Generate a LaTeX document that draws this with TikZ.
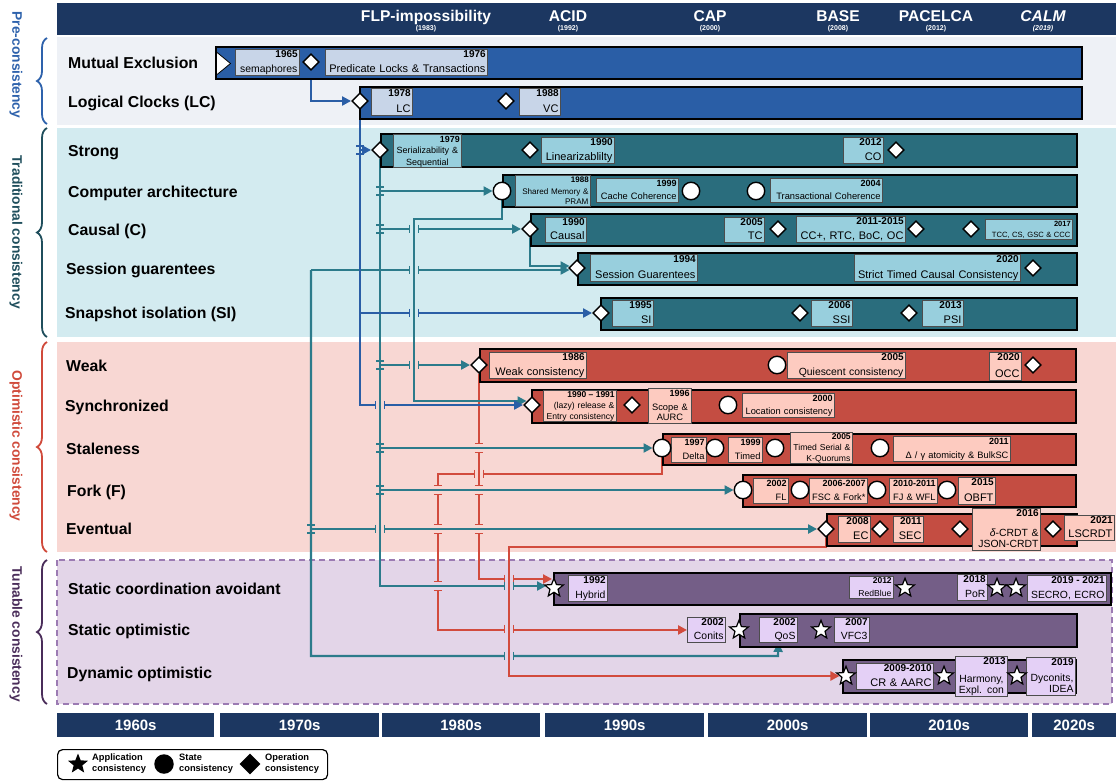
\documentclass[tikz,border=0pt]{standalone}
\usepackage{fontspec}
\setmainfont{Liberation Sans}
\usetikzlibrary{shapes.geometric,arrows.meta,calc,decorations.pathreplacing}
\pgfdeclarelayer{bgl}
\pgfdeclarelayer{conn}
\pgfsetlayers{bgl,conn,main}

\definecolor{cNavy}{HTML}{1C3761}
\definecolor{cPreBg}{HTML}{EEF1F6}
\definecolor{cTradBg}{HTML}{D3EBF0}
\definecolor{cOptBg}{HTML}{F8D7D3}
\definecolor{cTunBg}{HTML}{E3D5E8}
\definecolor{cTunLine}{HTML}{9C7BB3}
\definecolor{cBlueBar}{HTML}{2A5EA6}
\definecolor{cBlueBox}{HTML}{C8D5E8}
\definecolor{cTealBar}{HTML}{2A6D7D}
\definecolor{cTealBox}{HTML}{98CFDD}
\definecolor{cRedBar}{HTML}{C44D42}
\definecolor{cRedBox}{HTML}{FDCBC0}
\definecolor{cPurpBar}{HTML}{745E87}
\definecolor{cPurpBox}{HTML}{E4D0F6}
\definecolor{lnBlue}{HTML}{2A5EA6}
\definecolor{lnTeal}{HTML}{2C7B8B}
\definecolor{lnRed}{HTML}{D24B3D}
\definecolor{cPreTxt}{HTML}{2E62AC}
\definecolor{cTradTxt}{HTML}{1F4E5C}
\definecolor{cOptTxt}{HTML}{D04A3B}
\definecolor{cTunTxt}{HTML}{4A2D5A}
\definecolor{boxline}{HTML}{4D4D4D}

\newcommand{\fsz}[2]{\fontsize{#1}{#2}\selectfont}

% timeline bar: name, x1, y1, x2, y2, fill
\newcommand{\tlbar}[6]{%
  \pgfmathsetmacro\bw{#4-#2}\pgfmathsetmacro\bh{#5-#3}%
  \node[barst, fill=#6, minimum width=\bw pt, minimum height=\bh pt] (#1) at (#2,#3) {};}

% dated box: [opts] name, x1, y1, x2, y2, fill, year, label
\newcommand{\ybox}[9][]{%
  \begin{scope}[#1]
    \pgfmathsetmacro\bw{#5-#3}\pgfmathsetmacro\bh{#6-#4}\pgfmathsetmacro\tw{#5-#3-4}%
    \node[ybx, fill=#7, minimum width=\bw pt, minimum height=\bh pt] (#2) at (#3,#4) {};
    \node[yrf] (#2-y) at (#2.north east) {#8};
    \node[lbf, text width=\tw pt] (#2-l) at (#2.south) {#9\vphantom{y}};
  \end{scope}}

% line jumps: x, y, background, crossing colour, jumped colour
\newcommand{\hgap}[5]{%
  \fill[#3] (#1-4.6,#2-1.8) rectangle (#1+4.6,#2+1.8);
  \draw[#4,line width=2.2] (#1,#2-2.5) -- (#1,#2+2.5);
  \draw[#5,line width=1.5] (#1-4.6,#2-4.2) -- (#1-4.6,#2+4.2) (#1+4.6,#2-4.2) -- (#1+4.6,#2+4.2);}
\newcommand{\vgap}[5]{%
  \fill[#3] (#1-1.8,#2-4.6) rectangle (#1+1.8,#2+4.6);
  \draw[#4,line width=2.2] (#1-2.5,#2) -- (#1+2.5,#2);
  \draw[#5,line width=1.5] (#1-4.2,#2-4.6) -- (#1+4.2,#2-4.6) (#1-4.2,#2+4.6) -- (#1+4.2,#2+4.6);}
% branch ticks on a trunk line
\newcommand{\btick}[3]{%
  \draw[#3,line width=1.5] (#1-4,#2-4.2) -- (#1+4,#2-4.2) (#1-4,#2+4.2) -- (#1+4,#2+4.2);}

\begin{document}
\begin{tikzpicture}[x=1pt,y=-1pt,
  barst/.style={draw=black, line width=1.6, inner sep=0, anchor=north west},
  ybx/.style={draw=boxline, line width=0.9, inner sep=0, anchor=north west},
  yrf/.style={anchor=north east, inner xsep=2, inner ysep=1.8, font=\fsz{10}{11}\bfseries},
  lbf/.style={anchor=south, inner xsep=0, inner ysep=0.8, align=right, font=\fsz{11}{12}},
  szT/.style={yrf/.append style={font=\fsz{10}{11}\bfseries}, lbf/.append style={font=\fsz{10.4}{11.6}}},
  szM/.style={yrf/.append style={font=\fsz{9}{10}\bfseries}, lbf/.append style={font=\fsz{9.3}{10.6}}},
  szS9/.style={yrf/.append style={font=\fsz{8.9}{10}\bfseries}, lbf/.append style={font=\fsz{9}{11.2}}},
  szS/.style={yrf/.append style={font=\fsz{8.5}{9.5}\bfseries}, lbf/.append style={font=\fsz{8.6}{10.2}}},
  szS8/.style={yrf/.append style={font=\fsz{8}{9}\bfseries}, lbf/.append style={font=\fsz{8.1}{10}}},
  szXS/.style={yrf/.append style={font=\fsz{7.5}{8.5}\bfseries}, lbf/.append style={font=\fsz{7.6}{8.6}}},
  lbc/.style={lbf/.append style={align=center}},
  dmd/.style={diamond, draw=black, fill=white, line width=1.4, inner sep=0, minimum width=16.5, minimum height=16.5},
  crc/.style={circle, draw=black, fill=white, line width=1.4, inner sep=0, minimum size=17.5},
  str/.style={star, star points=5, star point ratio=2.3, draw=black, fill=white, line width=1.2, inner sep=0, minimum size=19.5},
  rowlab/.style={anchor=base west, inner sep=0, font=\fsz{15.8}{18}\bfseries},
  seclab/.style={rotate=-90, inner sep=0, font=\fsz{13.8}{16}\bfseries},
  hdr/.style={anchor=base, inner sep=0, text=white, font=\fsz{15.6}{17}\bfseries},
  hsub/.style={anchor=base, inner sep=0, text=white, font=\fsz{7}{8}\bfseries},
  dec/.style={anchor=north west, fill=cNavy, text=white, inner sep=0, minimum height=24, font=\fsz{15}{17}\bfseries},
  lgtxt/.style={anchor=west, align=left, inner sep=0, font=\fsz{9.3}{11}\bfseries},
  brc/.style={decorate, decoration={brace, amplitude=10pt}, line width=1.8},
  arr/.style={-{Triangle[length=9pt,width=9pt]}},
  cb/.style={draw=lnBlue, line width=2.2},
  ct/.style={draw=lnTeal, line width=2.2},
  cr/.style={draw=lnRed, line width=2.2}]
\useasboundingbox (0,0) rectangle (1119,780);

% ---------- backgrounds, header, decades ----------
\begin{pgfonlayer}{bgl}
  \fill[white] (0,0) rectangle (1119,780);
  \fill[cNavy] (57,3) rectangle (1116,35);
  \fill[cPreBg] (57,37) rectangle (1116,125);
  \fill[cTradBg] (57,128) rectangle (1116,337);
  \fill[cOptBg] (57,342) rectangle (1116,552);
  \fill[cTunBg] (57,560) rectangle (1112,704);
  \draw[cTunLine, line width=1.8, dash pattern=on 6pt off 4pt] (57,560) rectangle (1112,704);
\end{pgfonlayer}

\node[hdr] (hFLP) at (426,21.5) {FLP-impossibility};
\node[hsub] (hFLPy) at (426,30) {(1983)};
\node[hdr] (hACID) at (568,21.5) {ACID};
\node[hsub] (hACIDy) at (568,30) {(1992)};
\node[hdr] (hCAP) at (710,21.5) {CAP};
\node[hsub] (hCAPy) at (710,30) {(2000)};
\node[hdr] (hBASE) at (838,21.5) {BASE};
\node[hsub] (hBASEy) at (838,30) {(2008)};
\node[hdr] (hPAC) at (936,21.5) {PACELCA};
\node[hsub] (hPACy) at (936,30) {(2012)};
\node[hdr] (hCALM) at (1043,21.5) {\itshape CALM};
\node[hsub] (hCALMy) at (1043,30) {\itshape (2019)};

\node[dec, minimum width=157] (d60) at (57,713) {1960s};
\node[dec, minimum width=159] (d70) at (220,713) {1970s};
\node[dec, minimum width=158] (d80) at (382,713) {1980s};
\node[dec, minimum width=159] (d90) at (545,713) {1990s};
\node[dec, minimum width=159] (d00) at (708,713) {2000s};
\node[dec, minimum width=158] (d10) at (870,713) {2010s};
\node[dec, minimum width=84] (d20) at (1032,713) {2020s};

% ---------- section braces and titles ----------
\draw[brc, cPreTxt] (47,124) -- (47,38);
\draw[brc, cTradTxt] (47,337) -- (47,128);
\draw[brc, cOptTxt] (47,552) -- (47,342);
\draw[brc, cTunTxt] (47,704) -- (47,560);
\node[seclab, text=cPreTxt] (sPre) at (16,65) {Pre-consistency};
\node[seclab, text=cTradTxt] (sTrad) at (16,232) {Traditional consistency};
\node[seclab, text=cOptTxt] (sOpt) at (16,446) {Optimistic consistency};
\node[seclab, text=cTunTxt] (sTun) at (16,634) {Tunable consistency};

% ---------- row labels ----------
\node[rowlab] (lME) at (68,68.6) {Mutual Exclusion};
\node[rowlab] (lLC) at (68,107.6) {Logical Clocks (LC)};
\node[rowlab] (lStrong) at (68,156.6) {Strong};
\node[rowlab] (lCA) at (68,197.6) {Computer architecture};
\node[rowlab] (lCausal) at (68,235.6) {Causal (C)};
\node[rowlab] (lSession) at (66,274.6) {Session guarentees};
\node[rowlab] (lSI) at (65,318.6) {Snapshot isolation (SI)};
\node[rowlab] (lWeak) at (66,371.6) {Weak};
\node[rowlab] (lSync) at (65,411.6) {Synchronized};
\node[rowlab] (lStale) at (66,454.6) {Staleness};
\node[rowlab] (lFork) at (67,496.6) {Fork (F)};
\node[rowlab] (lEvent) at (66,534.6) {Eventual};
\node[rowlab] (lSCA) at (68,594.6) {Static coordination avoidant};
\node[rowlab] (lSO) at (68,635.6) {Static optimistic};
\node[rowlab] (lDO) at (67,678.6) {Dynamic optimistic};

% ---------- timeline bars ----------
\tlbar{barME}{215}{46}{1081}{78}{cBlueBar}
\tlbar{barLC}{359}{86}{1081}{118}{cBlueBar}
\tlbar{barStrong}{380}{133}{1076}{166}{cTealBar}
\tlbar{barCA}{502}{174}{1076}{206}{cTealBar}
\tlbar{barCausal}{530}{213}{1076}{245}{cTealBar}
\tlbar{barSession}{577}{252}{1076}{284}{cTealBar}
\tlbar{barSI}{600}{297}{1076}{329}{cTealBar}
\tlbar{barWeak}{479}{348}{1075}{381}{cRedBar}
\tlbar{barSync}{531}{389}{1075}{422}{cRedBar}
\tlbar{barStale}{662}{433}{1075}{464}{cRedBar}
\tlbar{barFork}{742}{474}{1075}{506}{cRedBar}
\tlbar{barEvent}{826}{513}{1076}{545}{cRedBar}
\tlbar{barSCA}{553}{572}{1110}{604}{cPurpBar}
\tlbar{barSO}{739}{613}{1076}{646}{cPurpBar}
\tlbar{barDO}{842}{659}{1075}{692}{cPurpBar}
\filldraw[fill=white, draw=black, line width=0.8] (216.5,52) -- (230.5,63.5) -- (216.5,75) -- cycle;

% ---------- dated boxes ----------
\ybox[szT]{b1965}{235}{49}{299}{75}{cBlueBox}{1965}{semaphores}
\ybox{b1976}{325}{49}{487}{75}{cBlueBox}{1976}{Predicate Locks \& Transactions}
\ybox{b1978}{371}{88}{412}{115}{cBlueBox}{1978}{LC}
\ybox{b1988v}{519}{88}{560}{115}{cBlueBox}{1988}{VC}

\ybox[szS9,lbc]{b1979}{393}{134}{461}{167}{cTealBox}{1979}{Serializability \&\\Sequential}
\ybox{b1990l}{541}{137}{614}{163}{cTealBox}{1990}{Linearizablilty}
\ybox{b2012c}{843}{137}{883}{163}{cTealBox}{2012}{CO}
\ybox[szS8]{b1988s}{515}{175}{590}{206}{cTealBox}{1988}{Shared Memory \&\\PRAM}
\ybox[szM]{b1999c}{596}{178}{678}{202}{cTealBox}{1999}{Cache Coherence}
\ybox[szM]{b2004}{770}{178}{882}{202}{cTealBox}{2004}{Transactional Coherence}
\ybox{b1990c}{545}{217}{586}{242}{cTealBox}{1990}{Causal}
\ybox{b2005c}{724}{217}{764}{242}{cTealBox}{2005}{TC}
\ybox{b2011c}{796}{216}{905}{242}{cTealBox}{2011-2015}{CC+, RTC, BoC, OC}
\ybox[szXS]{b2017}{985}{219}{1072}{239}{cTealBox}{2017}{TCC, CS, GSC \& CCC}
\ybox{b1994}{590}{254}{697}{281}{cTealBox}{1994}{Session Guarentees}
\ybox{b2020s}{854}{254}{1020}{281}{cTealBox}{2020}{Strict Timed Causal Consistency}
\ybox{b1995}{612}{300}{653}{326}{cTealBox}{1995}{SI}
\ybox{b2006}{811}{300}{852}{326}{cTealBox}{2006}{SSI}
\ybox{b2013p}{922}{300}{963}{326}{cTealBox}{2013}{PSI}

\ybox{b1986}{489}{352}{586}{378}{cRedBox}{1986}{Weak consistency}
\ybox[szT]{b2005q}{787}{352}{905}{378}{cRedBox}{2005}{Quiescent consistency}
\ybox{b2020o}{989}{352}{1021}{380}{cRedBox}{2020}{OCC}
\ybox[szS]{b1990r}{543}{390}{616}{421}{cRedBox}{1990 -- 1991}{(lazy) release \&\\Entry consistency}
\ybox[szM,lbc]{b1996}{648}{388}{691}{423}{cRedBox}{1996}{Scope \&\\AURC}
\ybox[szM]{b2000}{742}{393}{834}{417}{cRedBox}{2000}{Location consistency}
\ybox[szM]{b1997}{671}{437}{706}{462}{cRedBox}{1997}{Delta}
\ybox[szM]{b1999t}{728}{437}{762}{462}{cRedBox}{1999}{Timed}
\ybox[szS]{b2005t}{790}{432}{852}{463}{cRedBox}{2005}{Timed Serial \&\\K-Quorums}
\ybox[szM]{b2011d}{893}{436}{1010}{461}{cRedBox}{2011}{Δ / γ atomicity \& BulkSC}
\ybox[szM]{b2002f}{753}{478}{788}{503}{cRedBox}{2002}{FL}
\ybox[szM]{b2006f}{809}{478}{867}{503}{cRedBox}{2006-2007}{FSC \& Fork*}
\ybox[szM]{b2010f}{889}{478}{937}{503}{cRedBox}{2010-2011}{FJ \& WFL}
\ybox{b2015}{958}{477}{995}{504}{cRedBox}{2015}{OBFT}
\ybox{b2008}{838}{516}{870}{542}{cRedBox}{2008}{EC}
\ybox{b2011e}{893}{516}{923}{542}{cRedBox}{2011}{SEC}
\ybox[szT]{b2016}{972}{508}{1040}{550}{cRedBox}{2016}{\textit{δ}-CRDT \&\\JSON-CRDT}
\ybox{b2021}{1064}{515}{1114}{540}{cRedBox}{2021}{LSCRDT}

\ybox[szT]{b1992}{568}{575}{607}{601}{cPurpBox}{1992}{Hybrid}
\ybox[szS]{b2012r}{849}{576}{893}{598}{cPurpBox}{2012}{RedBlue}
\ybox[szT]{b2018}{957}{574}{987}{600}{cPurpBox}{2018}{PoR}
\ybox[szT]{b2019s}{1027}{575}{1106}{601}{cPurpBox}{2019 - 2021}{SECRO, ECRO}
\ybox[szT]{bConits}{687}{617}{725}{642}{cPurpBox}{2002}{Conits}
\ybox[szT]{bQoS}{759}{617}{797}{642}{cPurpBox}{2002}{QoS}
\ybox[szT]{b2007}{834}{617}{869}{642}{cPurpBox}{2007}{VFC3}
\ybox{b2009}{856}{663}{933}{689}{cPurpBox}{2009-2010}{CR \& AARC}
\ybox[szT,lbc]{b2013h}{955}{656}{1007}{696}{cPurpBox}{2013}{Harmony,\\Expl. con}
\ybox[szT]{b2019d}{1026}{657}{1075}{695}{cPurpBox}{2019}{Dyconits,\\IDEA}

% ---------- consistency markers ----------
\node[dmd] (dME) at (311,62) {};
\node[dmd] (dLC) at (360,101) {};
\node[dmd] (dVC) at (506,101) {};
\node[dmd] (dStrong) at (380,150) {};
\node[dmd] (dLin) at (530,150) {};
\node[dmd] (dCO) at (896,150) {};
\node[crc] (cCA) at (502,191) {};
\node[crc] (cCC1) at (691,191) {};
\node[crc] (cCC2) at (756,191) {};
\node[dmd] (dCausal) at (530,229) {};
\node[dmd] (dTC) at (778,229) {};
\node[dmd] (dCCp) at (916,229) {};
\node[dmd] (dTCC) at (971,229) {};
\node[dmd] (dSession) at (577,268) {};
\node[dmd] (dSTCC) at (1033,268) {};
\node[dmd] (dSI) at (601,313) {};
\node[dmd] (dSSI) at (800,313) {};
\node[dmd] (dPSI) at (909,313) {};
\node[dmd] (dWeak) at (479,365) {};
\node[crc] (cQC) at (777,365) {};
\node[dmd] (dOCC) at (1033,365) {};
\node[dmd] (dSync) at (532,405) {};
\node[dmd] (dScope) at (632,405) {};
\node[crc] (cLoc) at (728,405) {};
\node[crc] (cStale) at (662,448) {};
\node[crc] (cTimed) at (715,448) {};
\node[crc] (cTSer) at (775,448) {};
\node[crc] (cAtom) at (880,448) {};
\node[crc] (cFork) at (743,490) {};
\node[crc] (cFSC) at (800,490) {};
\node[crc] (cFJ) at (877,490) {};
\node[crc] (cOBFT) at (947,490) {};
\node[dmd] (dEvent) at (826,529) {};
\node[dmd] (dSEC) at (880,529) {};
\node[dmd] (dCRDT) at (960,529) {};
\node[dmd] (dLSC) at (1053,529) {};
\node[str] (sSCA) at (554,588) {};
\node[str] (sRB) at (905,588) {};
\node[str] (sPoR) at (997,588) {};
\node[str] (sSEC) at (1016,588) {};
\node[str] (sSO) at (739,630) {};
\node[str] (sVFC) at (821,630) {};
\node[str] (sDyn) at (846,676) {};
\node[str] (sHarm) at (944,676) {};
\node[str] (sDyc) at (1017,676) {};

% ---------- connectors ----------
\coordinate (cBend) at (414,219);
\coordinate (cLeft) at (311,270);
\coordinate (qBend) at (778,656);
\coordinate (rBend) at (438,474);
\coordinate (eBend) at (509,547);

\begin{pgfonlayer}{conn}
  % optimistic lineage
  \draw[cr,arr] (dWeak.south) |- ($(sSCA)+(-2,-9)$);
  \draw[cr,arr] (cStale.south) |- (rBend) |- (bConits.west);
  \draw[cr,arr] (dEvent.south) |- (eBend) |- (sDyn);
  % traditional lineage
  \draw[ct,arr] (dStrong.south) |- (cCA);
  \draw[ct,arr] (dStrong.south) |- (dCausal);
  \draw[ct,arr] (dStrong.south) |- (dWeak);
  \draw[ct,arr] (dStrong.south) |- (cStale);
  \draw[ct,arr] (dStrong.south) |- (cFork);
  \draw[ct,arr] (dStrong.south) |- ($(sSCA)+(-8,-2)$);
  \draw[ct,arr] (cCA.south) |- (cBend) |- ($(dSync.west)+(3.5,-4)$);
  \draw[ct,arr] (dCausal.south) |- ($(dSession.west)+(1.5,-2)$);
  \draw[ct,arr] (cLeft) -- ($(dSession.west)+(1.5,2)$);
  \draw[ct,arr] (cLeft) |- (dEvent);
  \draw[ct,arr] (cLeft) |- (qBend) -- (bQoS.south);
  % pre-consistency lineage
  \draw[cb,arr] (dME.south) |- (dLC);
  \draw[cb,arr] (dLC.south) |- (dStrong);
  \draw[cb,arr] (dLC.south) |- (dSI);
  \draw[cb,arr] (dLC.south) |- (dSync);
  % line jumps
  \hgap{414}{229}{cTradBg}{lnTeal}{lnTeal}
  \hgap{414}{270}{cTradBg}{lnTeal}{lnTeal}
  \hgap{414}{313}{cTradBg}{lnTeal}{lnBlue}
  \hgap{414}{365}{cOptBg}{lnTeal}{lnTeal}
  \hgap{380}{405}{cOptBg}{lnTeal}{lnBlue}
  \hgap{380}{529}{cOptBg}{lnTeal}{lnTeal}
  \hgap{479}{474}{cOptBg}{lnRed}{lnRed}
  \hgap{509}{579}{cTunBg}{lnRed}{lnRed}
  \hgap{509}{586}{cTunBg}{lnRed}{lnTeal}
  \hgap{509}{629}{cTunBg}{lnRed}{lnRed}
  \hgap{509}{656}{cTunBg}{lnRed}{lnTeal}
  \vgap{479}{448}{cOptBg}{lnTeal}{lnRed}
  \vgap{479}{490}{cOptBg}{lnTeal}{lnRed}
  \vgap{479}{529}{cOptBg}{lnTeal}{lnRed}
  \vgap{438}{490}{cOptBg}{lnTeal}{lnRed}
  \vgap{438}{529}{cOptBg}{lnTeal}{lnRed}
  \vgap{438}{586}{cTunBg}{lnTeal}{lnRed}
  % branch ticks
  \btick{360}{150}{lnBlue}
  \btick{380}{191}{lnTeal}
  \btick{380}{229}{lnTeal}
  \btick{380}{365}{lnTeal}
  \btick{380}{448}{lnTeal}
  \btick{380}{490}{lnTeal}
  \btick{311}{529}{lnTeal}
\end{pgfonlayer}

% ---------- legend ----------
\node[draw=black, line width=1.2, rounded corners=5, anchor=north west, minimum width=270, minimum height=30, inner sep=0] (legend) at (57,749) {};
\node[star, star points=5, star point ratio=2.3, fill=black, inner sep=0, minimum size=21] (lgStar) at (78,764) {};
\node[lgtxt] (lgApp) at (92,764) {Application\\consistency};
\node[circle, fill=black, inner sep=0, minimum size=19.5] (lgCirc) at (164,764) {};
\node[lgtxt] (lgState) at (179,764) {State\\consistency};
\node[diamond, fill=black, inner sep=0, minimum width=21, minimum height=21] (lgDia) at (250,764) {};
\node[lgtxt] (lgOp) at (265,764) {Operation\\consistency};
\end{tikzpicture}
\end{document}
